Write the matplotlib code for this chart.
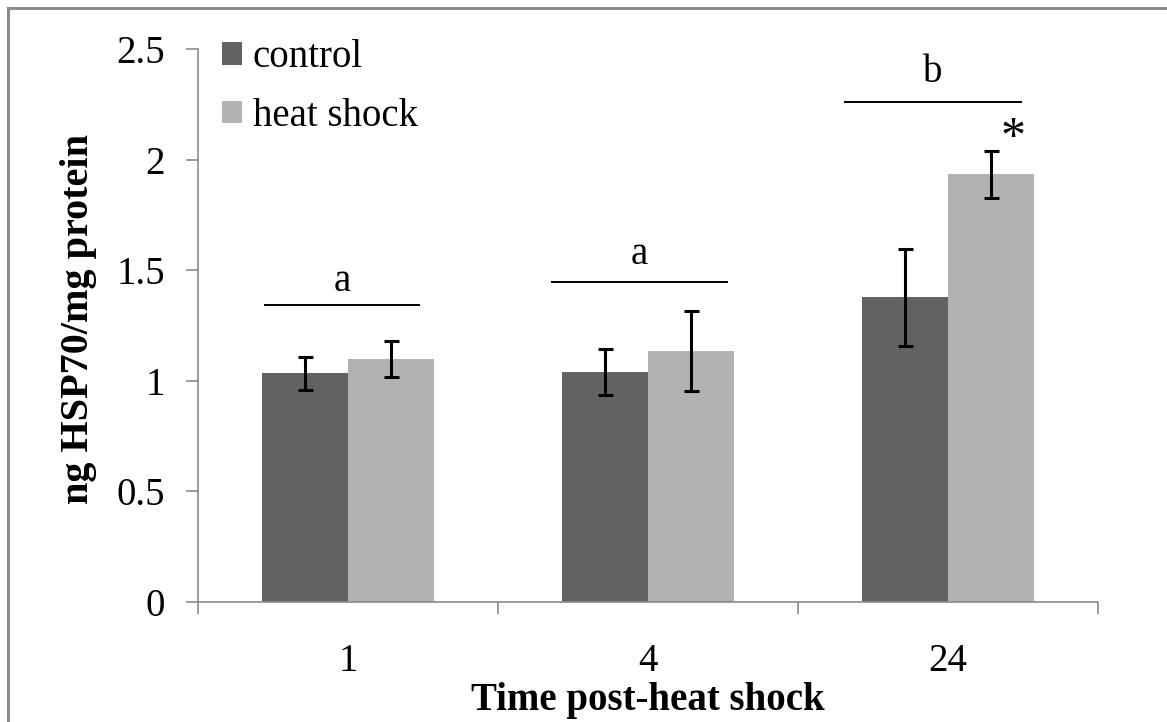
import numpy as np
import matplotlib
matplotlib.use('Agg')
import matplotlib.pyplot as plt
import matplotlib.ticker as mticker
from matplotlib.lines import Line2D

plt.rcParams['font.family'] = ['Liberation Serif', 'DejaVu Serif']

# data
times = ['1', '4', '24']
control = [1.033, 1.039, 1.377]
control_err = [0.076, 0.102, 0.219]
heat = [1.099, 1.133, 1.935]
heat_err = [0.081, 0.180, 0.106]

# group letters (significance brackets) and the star on the 24 h heat-shock bar
letters = ['a', 'a', 'b']
bracket_y = [1.344, 1.445, 2.262]
bracket_lo = [-0.277, 0.681, 1.657]
bracket_hi = [0.237, 1.264, 2.243]
letter_y = [1.405, 1.527, 2.350]

fig = plt.figure(figsize=(11.67, 7.22), dpi=100)
ax = fig.add_axes([198 / 1167, 1 - 601.5 / 722, 900 / 1167, 552.2 / 722])

x = np.arange(len(times))
w = 0.287
err_kw = dict(ecolor='black', elinewidth=2.2, capsize=5.4, capthick=2.2)
ax.bar(x - w / 2, control, w, color='#626262', label='control',
       yerr=control_err, error_kw=err_kw, zorder=2)
ax.bar(x + w / 2, heat, w, color='#b2b2b2', label='heat shock',
       yerr=heat_err, error_kw=err_kw, zorder=2)

for i in range(len(times)):
    ax.plot([bracket_lo[i], bracket_hi[i]], [bracket_y[i]] * 2, color='black', lw=1.4)
    ax.text((bracket_lo[i] + bracket_hi[i]) / 2, letter_y[i], letters[i],
            ha='center', va='baseline', fontsize=28)
ax.text(x[2] + w / 2 + 0.075, 2.04, '*', ha='center', va='baseline', fontsize=36)

ax.set_xlim(-0.5, 2.5)
ax.set_ylim(0, 2.5)
ax.set_yticks(np.arange(0, 2.51, 0.5))
ax.yaxis.set_major_formatter(mticker.FuncFormatter(lambda v, p: '%g' % v))

ax.set_xticks([-0.5, 0.5, 1.5, 2.5])
ax.set_xticklabels([])
ax.set_xticks(x, minor=True)
ax.set_xticklabels(times, minor=True)

spine_c = '#8a8a8a'
for s in ['top', 'right']:
    ax.spines[s].set_visible(False)
for s in ['left', 'bottom']:
    ax.spines[s].set_color(spine_c)
    ax.spines[s].set_linewidth(1.2)
ax.tick_params(axis='both', which='major', direction='out', length=8.6, width=1.2,
               color=spine_c, labelsize=28)
ax.tick_params(axis='y', pad=15)
ax.tick_params(axis='x', which='minor', length=0, labelsize=28, pad=30)

fig.text(648 / 1167, 1 - 710 / 722, 'Time post-heat shock', ha='center', va='baseline',
         fontsize=28, fontweight='bold')
fig.text(79 / 1167, 1 - 319 / 722, 'ng HSP70/mg protein', ha='center', va='center',
         rotation=90, fontsize=29, fontweight='bold')

ax.legend(loc='upper left', bbox_to_anchor=(0.027, 1.018), frameon=False, fontsize=28,
          handlelength=0.5, handleheight=0.5, handletextpad=0.28, labelspacing=0.56,
          borderpad=0, borderaxespad=0)

# grey outer frame (only top and left edges visible in the crop)
fig.add_artist(Line2D([8 / 1167, 8 / 1167], [0, 1 - 8 / 722], transform=fig.transFigure,
                      color='#8c8c8c', lw=2.2))
fig.add_artist(Line2D([8 / 1167, 1], [1 - 8 / 722, 1 - 8 / 722], transform=fig.transFigure,
                      color='#8c8c8c', lw=2.2))

fig.savefig('out.png', dpi=100)
